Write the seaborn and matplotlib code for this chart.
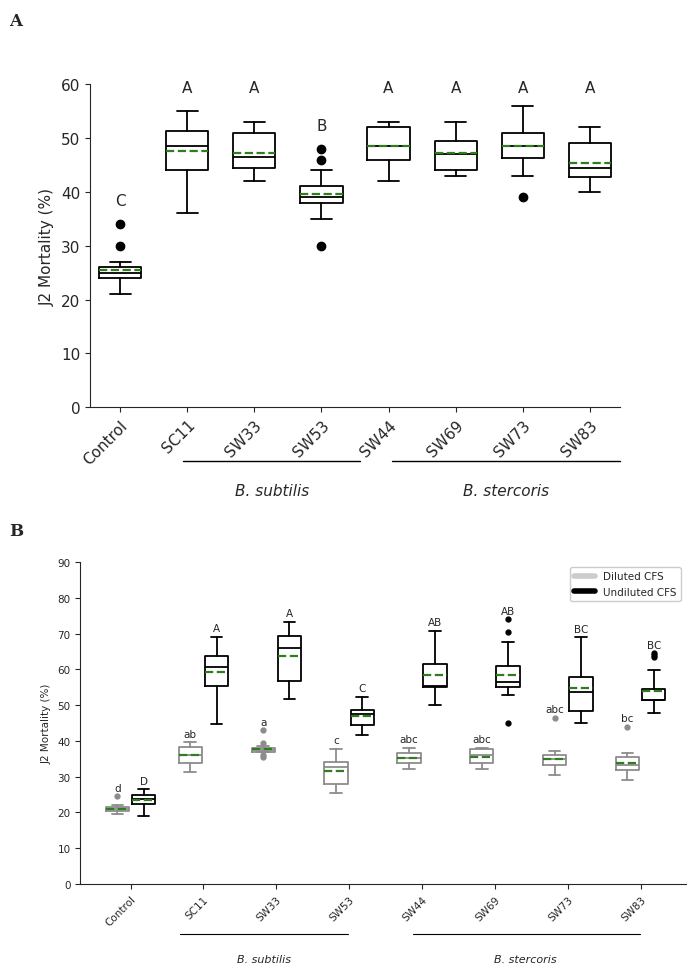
import matplotlib
matplotlib.use("Agg")
import matplotlib.pyplot as plt
import seaborn as sns

sns.set_style("ticks")

strains = ["Control", "SC11", "SW33", "SW53", "SW44", "SW69", "SW73", "SW83"]

# Panel A box statistics
a_whislo = [21, 36, 42, 35, 42, 43, 43, 40]
a_q1 = [24, 44, 44.5, 38, 46, 44, 46.3, 42.8]
a_med = [25, 48.5, 46.5, 39, 48.5, 47, 48.5, 44.5]
a_q3 = [26, 51.3, 51, 41, 52, 49.5, 51, 49]
a_whishi = [27, 55, 53, 44, 53, 53, 56, 52]
a_mean = [25.5, 47.5, 47.2, 39.6, 48.5, 47.3, 48.6, 45.3]
a_fliers = [[30, 34], [], [], [30, 46, 48], [], [], [39], []]
a_letters = ["C", "A", "A", "B", "A", "A", "A", "A"]

# Panel B, diluted CFS
d_whislo = [19.7, 31.2, 36.8, 25.5, 32, 32, 30.5, 29.2]
d_q1 = [20.5, 33.8, 37, 27.9, 33.8, 33.8, 33.2, 31.8]
d_med = [21, 36.1, 37.5, 32.7, 35.3, 36, 34.8, 33.2]
d_q3 = [21.5, 38.4, 37.9, 34.1, 36.5, 37.6, 36, 35.6]
d_whishi = [22, 39.6, 38.5, 37.8, 38, 38, 37.3, 36.5]
d_mean = [21, 36, 37.6, 31.7, 35.2, 35.4, 35, 33.8]
d_fliers = [[24.5], [], [43, 39.5, 36, 35.5], [], [], [], [46.5], [44]]
d_letters = ["d", "ab", "a", "c", "abc", "abc", "abc", "bc"]

# Panel B, undiluted CFS
u_whislo = [19, 44.8, 51.8, 41.7, 50, 52.9, 44.9, 47.9]
u_q1 = [22.4, 55.4, 56.8, 44.3, 55, 55, 48.3, 51.3]
u_med = [23.8, 60.5, 66, 47.5, 55.4, 56.5, 53.6, 51.4]
u_q3 = [25, 63.6, 69.4, 48.6, 61.6, 60.8, 57.9, 54.6]
u_whishi = [26.5, 69.1, 73.3, 52.3, 70.8, 67.5, 68.9, 59.7]
u_mean = [23.6, 59.2, 63.6, 47, 58.4, 58.5, 54.8, 53.9]
u_fliers = [[], [], [], [], [], [74, 70.5, 45], [], [63.5, 64, 64.5]]
u_letters = ["D", "A", "A", "C", "AB", "AB", "BC", "BC"]


def make_stats(lo, q1, med, q3, hi, mean, fl):
    return [dict(whislo=lo[i], q1=q1[i], med=med[i], q3=q3[i], whishi=hi[i],
                 mean=mean[i], fliers=fl[i]) for i in range(len(lo))]


def draw(ax, stats, pos, width, color, fsize, fcolor):
    ax.bxp(stats, positions=pos, widths=width, showmeans=True, meanline=True,
           boxprops=dict(color=color, lw=1.3), medianprops=dict(color=color, lw=1.3),
           whiskerprops=dict(color=color, lw=1.3), capprops=dict(color=color, lw=1.3),
           meanprops=dict(color="#2e7d1f", ls="--", lw=1.6),
           flierprops=dict(marker="o", markerfacecolor=fcolor, markeredgecolor=fcolor,
                           markersize=fsize))


fig = plt.figure(figsize=(6.92, 9.79), dpi=100)

# ---- Panel A
axA = fig.add_axes([0.13, 0.583, 0.766, 0.330])
x = list(range(len(strains)))
draw(axA, make_stats(a_whislo, a_q1, a_med, a_q3, a_whishi, a_mean, a_fliers),
     x, 0.63, "black", 6, "black")
for i, t in enumerate(a_letters):
    ytop = max([a_whishi[i]] + a_fliers[i])
    axA.text(i, ytop + 3 if t != "A" else 58, t, ha="center", va="bottom", fontsize=11)
axA.set_xlim(-0.45, 7.45)
axA.set_ylim(0, 60)
axA.set_xticks(x)
axA.set_xticklabels(strains, rotation=45, ha="right", rotation_mode="anchor", fontsize=11)
axA.set_ylabel("J2 Mortality (%)", fontsize=11)
axA.tick_params(labelsize=11)
sns.despine(ax=axA)
fig.text(0.013, 0.987, "A", fontsize=12, fontweight="bold", family="DejaVu Serif", va="top")
fig.add_artist(plt.Line2D([183 / 692, 360 / 692], [1 - 462 / 979] * 2, color="black", lw=1))
fig.add_artist(plt.Line2D([392 / 692, 620 / 692], [1 - 462 / 979] * 2, color="black", lw=1))
fig.text(272 / 692, 1 - 492 / 979, "B. subtilis", style="italic", ha="center", va="center", fontsize=11)
fig.text(506 / 692, 1 - 492 / 979, "B. stercoris", style="italic", ha="center", va="center", fontsize=11)

# ---- Panel B
axB = fig.add_axes([0.116, 0.096, 0.875, 0.329])
off = 0.18
draw(axB, make_stats(d_whislo, d_q1, d_med, d_q3, d_whishi, d_mean, d_fliers),
     [i - off for i in x], 0.32, "#8c8c8c", 3.5, "#8c8c8c")
draw(axB, make_stats(u_whislo, u_q1, u_med, u_q3, u_whishi, u_mean, u_fliers),
     [i + off for i in x], 0.32, "black", 3.5, "black")
for i in x:
    yd = max([d_whishi[i]] + d_fliers[i])
    yu = max([u_whishi[i]] + u_fliers[i])
    axB.text(i - off, yd + 1, d_letters[i], ha="center", va="bottom", fontsize=7.5)
    axB.text(i + off, yu + 1, u_letters[i], ha="center", va="bottom", fontsize=7.5)
axB.set_xlim(-0.69, 7.62)
axB.set_ylim(0, 90)
axB.set_yticks(range(0, 91, 10))
axB.set_xticks(x)
axB.set_xticklabels(strains, rotation=45, ha="right", rotation_mode="anchor", fontsize=7.5)
axB.tick_params(labelsize=7.5)
axB.set_ylabel("J2 Mortality (%)", fontsize=7.5)
axB.plot([], [], color="#cccccc", lw=4, label="Diluted CFS")
axB.plot([], [], color="black", lw=4, label="Undiluted CFS")
axB.legend(loc="upper right", fontsize=7.5, handlelength=2, framealpha=1)
sns.despine(ax=axB)
fig.text(0.013, 1 - 532 / 979, "B", fontsize=12, fontweight="bold", family="DejaVu Serif", va="center")
fig.add_artist(plt.Line2D([180 / 692, 348 / 692], [1 - 935 / 979] * 2, color="black", lw=0.8))
fig.add_artist(plt.Line2D([413 / 692, 640 / 692], [1 - 935 / 979] * 2, color="black", lw=0.8))
fig.text(264 / 692, 1 - 960 / 979, "B. subtilis", style="italic", ha="center", va="center", fontsize=8)
fig.text(525 / 692, 1 - 960 / 979, "B. stercoris", style="italic", ha="center", va="center", fontsize=8)

fig.savefig("out.png", dpi=100)
